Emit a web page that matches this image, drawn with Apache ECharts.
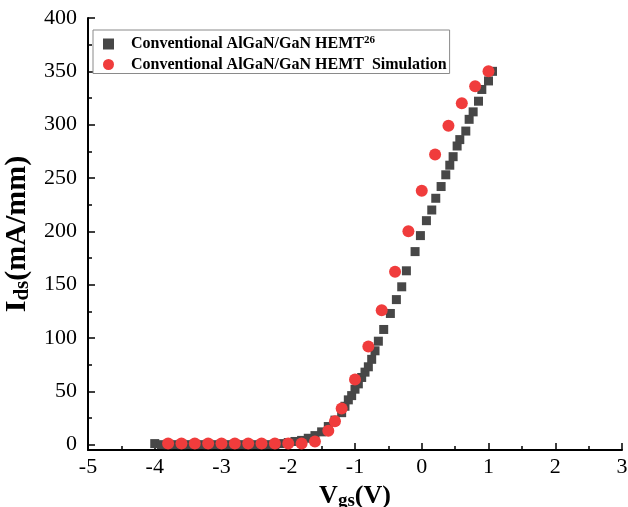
<!DOCTYPE html>
<html>
<head>
<meta charset="utf-8">
<script src="https://cdn.jsdelivr.net/npm/echarts@6/dist/echarts.min.js"></script>
<style>
  html, body { margin: 0; padding: 0; background: #ffffff; }
  #chart { width: 628px; height: 507px; }
</style>
</head>
<body>
<div id="chart"></div>
<script>
// Transfer characteristics of a conventional AlGaN/GaN HEMT: measured vs. simulated

// Measured (ref. 26): gate voltage (V) and drain current (mA/mm)
const measuredVgs = [
  -4.0, -3.9, -3.8, -3.7, -3.6, -3.5, -3.4, -3.3, -3.2, -3.1,
  -3.0, -2.9, -2.8, -2.7, -2.6, -2.5, -2.4, -2.3, -2.2, -2.1,
  -2.0, -1.9, -1.8, -1.7, -1.6, -1.5, -1.4, -1.3, -1.2, -1.15,
  -1.1, -1.05, -1.0, -0.95, -0.9, -0.85, -0.8, -0.75, -0.7, -0.65,
  -0.57, -0.47, -0.38, -0.3, -0.23, -0.1, -0.02, 0.07, 0.15, 0.21,
  0.29, 0.36, 0.42, 0.47, 0.53, 0.57, 0.66, 0.71, 0.77, 0.85,
  0.9, 1.0, 1.06
];
const measuredIds = [
  1, 0, 0, 0, 0, 0, 0, 0, 0, 0,
  0, 0, 0, 0, 0, 0, 0, 0, 0, 1,
  2, 3, 4, 6, 8.5, 12, 17, 23, 30, 36,
  42, 46, 52, 57, 63, 68, 73, 80, 88, 97,
  108, 123, 136, 148, 163, 181, 196, 210, 220, 231,
  242, 253, 262, 270, 280, 286, 294, 305, 312, 322,
  333, 341, 350
];

// Simulation: gate voltage (V) and drain current (mA/mm)
const simVgs = [
  -3.8, -3.6, -3.4, -3.2, -3.0, -2.8, -2.6, -2.4, -2.2, -2.0,
  -1.8, -1.6, -1.4, -1.3, -1.2, -1.0, -0.8, -0.6, -0.4, -0.2,
  0.0, 0.2, 0.4, 0.6, 0.8, 1.0
];
const simIds = [
  1, 1, 1, 1, 1, 1, 1, 1, 1, 1,
  1, 3, 13, 22, 34, 61, 92, 126, 162, 200,
  238, 272, 299, 320, 336, 350
];

// Tick positions
const xTicks = [-5, -4, -3, -2, -1, 0, 1, 2, 3];
const yMajorTicks = [0, 50, 100, 150, 200, 250, 300, 350, 400];
const yMinorTicks = [25, 75, 125, 175, 225, 275, 325, 375];

const seriesNames = [
  'Conventional AlGaN/GaN HEMT',
  'Conventional AlGaN/GaN HEMT  Simulation'
];

const FONT = '"Liberation Serif", "Times New Roman", serif';

const pairs = (xs, ys) => xs.map((v, i) => [v, ys[i]]);

const chart = echarts.init(document.getElementById('chart'), null, { renderer: 'canvas' });

chart.setOption({
  animation: false,
  backgroundColor: '#ffffff',
  grid: { left: 88, right: 6, top: 18, bottom: 57, containLabel: false, outerBoundsMode: 'none' },
  legend: {
    left: 93, top: 30,
    orient: 'vertical',
    backgroundColor: '#ffffff',
    borderColor: '#8a8a8a',
    borderWidth: 1,
    borderRadius: 0,
    padding: [5, 3, 1, 10],
    itemGap: 4.5,
    itemWidth: 11,
    itemHeight: 11,
    data: [
      { name: seriesNames[0], icon: 'rect' },
      { name: seriesNames[1], icon: 'circle' }
    ],
    formatter: function (name) {
      return name === seriesNames[0] ? '{t|' + name + '}{sup|26}' : '{t|' + name + '}';
    },
    textStyle: {
      fontFamily: FONT,
      fontWeight: 'bold',
      fontSize: 16,
      color: '#000',
      padding: [0, 0, 0, 12],
      rich: {
        t: { fontFamily: FONT, fontWeight: 'bold', fontSize: 16, color: '#000' },
        sup: { fontFamily: FONT, fontWeight: 'bold', fontSize: 11, color: '#000', verticalAlign: 'top', padding: [0, 0, 7, 0] }
      }
    }
  },
  xAxis: {
    type: 'value',
    min: -5, max: 3, interval: 1,
    name: '{m|V}{s|gs}{m|(V)}',
    nameLocation: 'middle',
    nameGap: 21,
    nameTextStyle: {
      rich: {
        m: { fontFamily: FONT, fontWeight: 'bold', fontSize: 26, color: '#000' },
        s: { fontFamily: FONT, fontWeight: 'bold', fontSize: 19, color: '#000', verticalAlign: 'bottom', padding: [10, 0, 0, 0] }
      }
    },
    axisLine: { onZero: false, lineStyle: { color: '#000', width: 2 } },
    axisTick: { inside: true, length: 7, lineStyle: { color: '#000', width: 1.5 } },
    minorTick: { show: true, splitNumber: 2, length: 4, lineStyle: { color: '#000', width: 1.5 } },
    axisLabel: {
      fontFamily: FONT, fontSize: 22, color: '#000', margin: 6,
      formatter: v => xTicks.includes(v) ? String(v) : ''
    },
    splitLine: { show: false }
  },
  yAxis: [
    {
      type: 'value',
      min: -5, max: 400,
      name: '{m|I}{s|ds}{m|(mA/mm)}',
      nameLocation: 'middle',
      nameGap: 49,
      nameRotate: 90,
      nameTextStyle: {
        rich: {
          m: { fontFamily: FONT, fontWeight: 'bold', fontSize: 30, color: '#000' },
          s: { fontFamily: FONT, fontWeight: 'bold', fontSize: 21, color: '#000', verticalAlign: 'bottom', padding: [11, 0, 0, 0] }
        }
      },
      axisLine: { onZero: false, lineStyle: { color: '#000', width: 2 } },
      axisTick: { inside: true, length: 7, customValues: yMajorTicks, lineStyle: { color: '#000', width: 1.5 } },
      axisLabel: { fontFamily: FONT, fontSize: 22, color: '#000', margin: 11, customValues: yMajorTicks },
      splitLine: { show: false }
    },
    {
      // second left axis only carries the short minor ticks
      type: 'value',
      position: 'left',
      min: -5, max: 400,
      axisLine: { show: false, onZero: false },
      axisTick: { inside: true, length: 4, customValues: yMinorTicks, lineStyle: { color: '#000', width: 1.5 } },
      axisLabel: { show: false },
      splitLine: { show: false }
    }
  ],
  series: [
    {
      name: seriesNames[0],
      type: 'scatter',
      symbol: 'rect',
      symbolSize: 9,
      itemStyle: { color: '#474747', opacity: 1 },
      data: pairs(measuredVgs, measuredIds)
    },
    {
      name: seriesNames[1],
      type: 'scatter',
      symbol: 'circle',
      symbolSize: 12,
      itemStyle: { color: '#f03c3c', opacity: 1 },
      data: pairs(simVgs, simIds)
    }
  ]
});
</script>
</body>
</html>
